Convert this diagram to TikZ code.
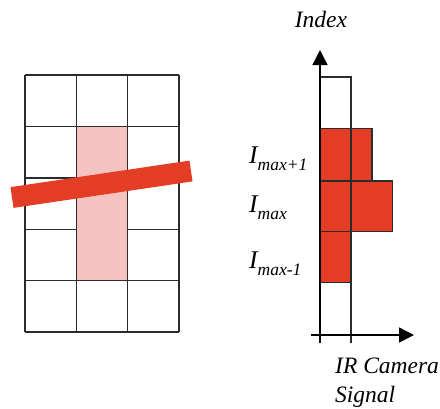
\documentclass[tikz,border=0pt]{standalone}
\usepackage{fontspec}
\setmainfont{Liberation Serif}
\usetikzlibrary{arrows.meta}
\definecolor{barred}{HTML}{E43D25}
\definecolor{pinkfill}{HTML}{F5C3C1}
\definecolor{gridline}{HTML}{2B2B2B}
\tikzset{
  gridln/.style={draw=gridline, line width=1.4pt},
  axisln/.style={draw=black, line width=1.4pt},
  histbar/.style={fill=barred, draw=gridline, line width=1.4pt},
  lbl/.style={inner sep=0pt, font=\fontsize{23.5}{27}\selectfont\itshape}
}
\newcommand{\idxlbl}[1]{{\fontsize{25.5}{28}\selectfont I}\raisebox{-7pt}{\fontsize{17.5}{20}\selectfont\itshape #1}}
\begin{document}
\begin{tikzpicture}[x=1pt,y=-1pt]
\useasboundingbox (0,0) rectangle (440,408);
% ---------- left grid ----------
\fill[pinkfill] (76.3,126.4) rectangle (127.7,280.6);
\foreach \x in {25,76.3,127.7,179}
  \draw[gridln] (\x,75) -- (\x,332);
\foreach \y in {75,126.4,280.6,332}
  \draw[gridln] (25,\y) -- (179,\y);
\foreach \y in {177.8,229.2}{
  \draw[gridln] (25,\y) -- (76.3,\y);
  \draw[gridln] (127.7,\y) -- (179,\y);
}
% slanted red bar
\coordinate (barL) at (12,197.5);
\coordinate (barR) at (191,171);
\draw[barred, line width=21pt] (barL) -- (barR);
% ---------- right histogram ----------
\coordinate (yb) at (320,343);
\coordinate (yt) at (320,50);
\coordinate (xl) at (311,335);
\coordinate (xr) at (414,335);
\filldraw[histbar] (320,128.3) rectangle (372,181);
\filldraw[histbar] (320,181) rectangle (392.5,231.7);
\filldraw[histbar] (320,231.7) rectangle (350.7,282.7);
\draw[gridln] (320,77) -- (351,77) -- (351,343);
\draw[axisln, -{Triangle[width=15pt,length=15pt]}] (yb) -- (yt);
\draw[axisln, -{Triangle[width=15pt,length=15pt]}] (xl) -- (xr);
% labels
\node[lbl, anchor=base] (idx) at (321,27) {Index};
\node[lbl, anchor=base west] (lp) at (249,163) {\idxlbl{max+1}};
\node[lbl, anchor=base west] (lm) at (249,212) {\idxlbl{max}};
\node[lbl, anchor=base west] (ln) at (249,268) {\idxlbl{max-1}};
\node[lbl, anchor=base west] (ir) at (335,373) {IR Camera};
\node[lbl, anchor=base west] (sg) at (335,402) {Signal};
\end{tikzpicture}
\end{document}
